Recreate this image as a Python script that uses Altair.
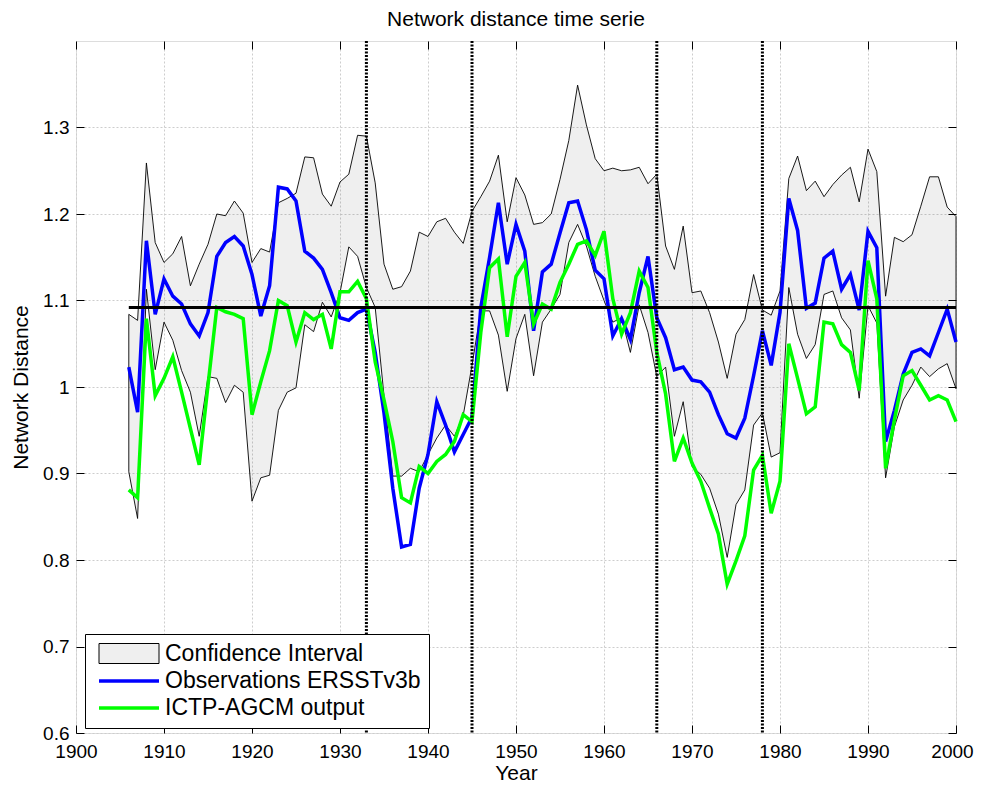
import altair as alt
import pandas as pd

FONT = "Liberation Sans"

years = list(range(1906, 2001))

upper = [1.084, 1.077, 1.259, 1.167, 1.144, 1.154, 1.174, 1.117, 1.142, 1.165,
         1.200, 1.198, 1.215, 1.201, 1.144, 1.160, 1.156, 1.213, 1.218, 1.224,
         1.266, 1.265, 1.223, 1.209, 1.237, 1.246, 1.291, 1.290, 1.236, 1.142,
         1.113, 1.116, 1.134, 1.179, 1.174, 1.191, 1.195, 1.179, 1.166, 1.203,
         1.220, 1.238, 1.268, 1.191, 1.242, 1.222, 1.188, 1.190, 1.200, 1.240,
         1.285, 1.349, 1.303, 1.264, 1.250, 1.253, 1.250, 1.251, 1.254, 1.235,
         1.246, 1.163, 1.136, 1.186, 1.109, 1.111, 1.086, 1.052, 1.010, 1.061,
         1.078, 1.130, 1.089, 1.083, 1.111, 1.241, 1.267, 1.227, 1.238, 1.220,
         1.234, 1.245, 1.254, 1.214, 1.275, 1.249, 1.105, 1.173, 1.168, 1.176,
         1.209, 1.243, 1.243, 1.208, 1.197]

lower = [0.902, 0.848, 1.113, 1.020, 1.075, 1.054, 1.019, 0.994, 0.943, 1.012,
         1.010, 0.982, 1.002, 0.994, 0.868, 0.895, 0.898, 0.973, 0.994, 0.999,
         1.072, 1.064, 1.098, 1.081, 1.109, 1.162, 1.151, 1.115, 1.092, 0.990,
         0.897, 0.897, 0.906, 0.902, 0.922, 0.941, 0.956, 0.943, 0.967, 1.025,
         1.088, 1.088, 1.060, 0.995, 1.056, 1.084, 1.013, 1.075, 1.090, 1.107,
         1.167, 1.188, 1.163, 1.128, 1.100, 1.075, 1.080, 1.040, 1.095, 1.063,
         1.012, 1.023, 0.943, 0.983, 0.908, 0.899, 0.883, 0.853, 0.803, 0.864,
         0.881, 0.956, 0.970, 0.919, 0.924, 1.115, 1.061, 1.033, 1.049, 1.107,
         1.111, 1.080, 1.066, 0.987, 1.094, 1.074, 0.895, 0.954, 0.985, 1.002,
         1.023, 1.012, 1.021, 1.027, 0.998]

observations = [1.023, 0.971, 1.169, 1.084, 1.125, 1.105, 1.096, 1.073, 1.059, 1.086,
                1.151, 1.167, 1.174, 1.163, 1.130, 1.082, 1.117, 1.231, 1.229, 1.215,
                1.157, 1.149, 1.136, 1.109, 1.080, 1.077, 1.086, 1.090, 1.040, 0.970,
                0.883, 0.815, 0.818, 0.883, 0.922, 0.983, 0.956, 0.925, 0.945, 0.965,
                1.092, 1.150, 1.213, 1.142, 1.188, 1.157, 1.065, 1.133, 1.142, 1.178,
                1.213, 1.215, 1.182, 1.135, 1.125, 1.059, 1.079, 1.055, 1.109, 1.151,
                1.080, 1.057, 1.020, 1.023, 1.008, 1.006, 0.994, 0.968, 0.946, 0.941,
                0.964, 1.013, 1.065, 1.025, 1.086, 1.218, 1.181, 1.091, 1.097, 1.149,
                1.157, 1.113, 1.130, 1.089, 1.180, 1.161, 0.937, 0.973, 1.015, 1.040,
                1.044, 1.036, 1.063, 1.090, 1.052]

model = [0.881, 0.872, 1.079, 0.990, 1.010, 1.035, 0.994, 0.952, 0.910, 1.002,
         1.092, 1.087, 1.084, 1.079, 0.968, 1.006, 1.042, 1.100, 1.094, 1.052,
         1.086, 1.078, 1.084, 1.044, 1.110, 1.110, 1.122, 1.102, 1.029, 0.985,
         0.937, 0.872, 0.866, 0.908, 0.900, 0.914, 0.922, 0.937, 0.968, 0.960,
         1.063, 1.138, 1.148, 1.058, 1.128, 1.144, 1.073, 1.096, 1.090, 1.121,
         1.142, 1.165, 1.169, 1.152, 1.180, 1.102, 1.061, 1.086, 1.134, 1.115,
         1.040, 0.992, 0.914, 0.941, 0.912, 0.891, 0.860, 0.830, 0.772, 0.799,
         0.828, 0.904, 0.921, 0.854, 0.891, 1.050, 1.010, 0.969, 0.977, 1.075,
         1.073, 1.049, 1.040, 0.996, 1.146, 1.102, 0.906, 0.962, 1.013, 1.019,
         1.002, 0.985, 0.990, 0.985, 0.960]

mean_level = 1.092
mean_span = [1906, 2000]
shift_years = [1933, 1945, 1966, 1978]

x_ticks = list(range(1900, 2001, 10))
y_ticks = [0.6, 0.7, 0.8, 0.9, 1.0, 1.1, 1.2, 1.3]
x_domain = [1900, 2000]
y_domain = [0.6, 1.4]

series_names = ["Confidence Interval", "Observations ERSSTv3b", "ICTP-AGCM output"]
series_fill = ["rgba(0,0,0,0.064)", "transparent", "transparent"]
series_stroke = ["#000000", "#0000ff", "#00ff00"]
series_width = [1, 3.5, 3.5]
series_shape = ["M-0.6,-1H5.4V1H-0.6Z", "M-0.6,0H5.4", "M-0.6,0H5.4"]

# ---- tables ----
band = pd.DataFrame({"year": years, "lower": lower, "upper": upper,
                     "series": series_names[0]})
outline = pd.DataFrame({
    "year": years + years[::-1] + [years[0]],
    "value": upper + lower[::-1] + [upper[0]],
})
outline["order"] = range(len(outline))
obs_df = pd.DataFrame({"year": years, "value": observations, "series": series_names[1]})
mod_df = pd.DataFrame({"year": years, "value": model, "series": series_names[2]})
mean_df = pd.DataFrame({"x": [mean_span[0]], "x2": [mean_span[1]], "y": [mean_level]})
shift_df = pd.DataFrame({"year": shift_years})
key_df = pd.DataFrame({"series": pd.Series([], dtype="object")})

xs = alt.Scale(domain=x_domain, nice=False, zero=False)
ys = alt.Scale(domain=y_domain, nice=False, zero=False)
fill_s = alt.Scale(domain=series_names, range=series_fill)
stroke_s = alt.Scale(domain=series_names, range=series_stroke)
width_s = alt.Scale(type="ordinal", domain=series_names, range=series_width)
shape_s = alt.Scale(domain=series_names, range=series_shape)

x_axis_main = alt.Axis(
    orient="bottom", values=x_ticks, format="d", offset=-8, tickSize=8,
    tickColor="black", tickWidth=1, domain=False, labelFont=FONT, labelFontSize=19,
    labelColor="black", labelPadding=9, labelFlush=False,
    labelOffset={"condition": {"test": f"datum.value === {x_domain[1]}", "value": -4}, "value": 0},
    title="Year",
    titleFont=FONT, titleFontSize=21, titleFontWeight="normal", titleColor="black",
    titlePadding=1, grid=True, gridColor="#cdcdcd", gridDash=[2, 2], gridWidth=1,
)
y_axis_main = alt.Axis(
    orient="left", values=y_ticks, format=".1~f", offset=-8, tickSize=8,
    tickColor="black", tickWidth=1, domain=False, labelFont=FONT, labelFontSize=19,
    labelColor="black", labelPadding=7, labelFlush=False, title="Network Distance",
    titleFont=FONT, titleFontSize=21, titleFontWeight="normal", titleColor="black",
    titlePadding=11, grid=True, gridColor="#cdcdcd", gridDash=[2, 2], gridWidth=1,
)
x_axis_top = alt.Axis(
    orient="top", values=x_ticks, offset=-8, tickSize=8, tickColor="black",
    domain=False, labels=False, title=None, grid=False,
)
y_axis_right = alt.Axis(
    orient="right", values=y_ticks, offset=-8, tickSize=8, tickColor="black",
    domain=False, labels=False, title=None, grid=False,
)

legend = alt.Legend(
    title=None, orient="none", legendX=9, legendY=593,
    labelFont=FONT, labelFontSize=23, labelColor="black", labelLimit=400,
    strokeColor="black", fillColor="white", padding=8, cornerRadius=0,
    symbolSize=400, labelOffset=48, rowPadding=3,
    symbolFillColor="white", symbolStrokeColor="black", symbolOpacity=1,
)

area = alt.Chart(band).mark_area().encode(
    x=alt.X("year:Q", scale=xs, axis=x_axis_main),
    y=alt.Y("lower:Q", scale=ys, axis=y_axis_main),
    y2="upper:Q",
    fill=alt.Fill("series:N", scale=fill_s, legend=legend),
)

edge = alt.Chart(outline).mark_line(color="black", strokeWidth=0.9).encode(
    x=alt.X("year:Q", scale=xs, axis=None),
    y=alt.Y("value:Q", scale=ys, axis=None),
    order="order:Q",
)


def series_line(df):
    return alt.Chart(df).mark_line().encode(
        x=alt.X("year:Q", scale=xs, axis=None),
        y=alt.Y("value:Q", scale=ys, axis=None),
        stroke=alt.Stroke("series:N", scale=stroke_s, legend=legend),
        strokeWidth=alt.StrokeWidth("series:N", scale=width_s, legend=legend),
    )


obs_line = series_line(obs_df)
mod_line = series_line(mod_df)

key = alt.Chart(key_df).mark_point(filled=True).encode(
    shape=alt.Shape("series:N", scale=shape_s, legend=legend),
    fill=alt.Fill("series:N", scale=fill_s, legend=legend),
    stroke=alt.Stroke("series:N", scale=stroke_s, legend=legend),
    strokeWidth=alt.StrokeWidth("series:N", scale=width_s, legend=legend),
)

mean_rule = alt.Chart(mean_df).mark_rule(color="black", strokeWidth=3).encode(
    x=alt.X("x:Q", scale=xs, axis=x_axis_top),
    x2="x2:Q",
    y=alt.Y("y:Q", scale=ys, axis=y_axis_right),
)

shift_rules = alt.Chart(shift_df).mark_rule(color="black", strokeWidth=3, strokeDash=[2, 1.5]).encode(
    x=alt.X("year:Q", scale=xs, axis=None),
)

chart = alt.layer(area, edge, obs_line, mod_line, key, mean_rule, shift_rules).resolve_axis(
    x="independent", y="independent"
).properties(
    width=880, height=692,
    autosize=alt.AutoSizeParams(type="none"),
    padding={"left": 68, "top": 33, "right": 18, "bottom": 49},
    title=alt.TitleParams("Network distance time serie", font=FONT, fontSize=21,
                          fontWeight="normal", color="black", offset=10,
                          anchor="middle"),
).configure_view(stroke="black", strokeWidth=1.2).configure(background="white")

chart.save("out.html", embed_options={"renderer": "svg", "actions": False})
